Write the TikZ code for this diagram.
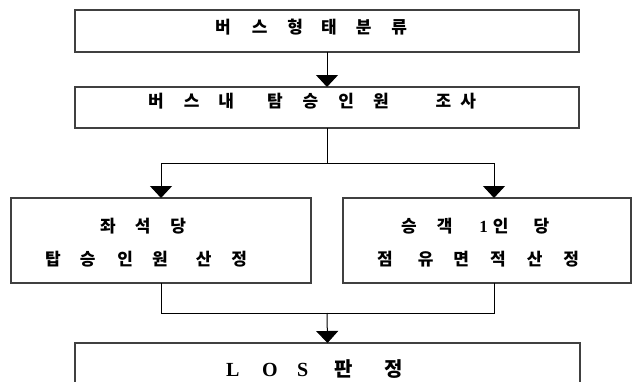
\documentclass[tikz,border=0pt]{standalone}
\usepackage{fontspec}
\newfontfamily\kr{Noto Sans CJK KR}
\newfontfamily\tms{Liberation Serif}
\usetikzlibrary{arrows.meta}
\definecolor{boxgray}{HTML}{404040}
\newcommand{\gp}[1]{\hspace*{#1pt}}
\begin{document}
\begin{tikzpicture}[x=1pt,y=-1pt,
  box/.style={draw=boxgray, line width=1.4pt, inner sep=0pt, outer sep=0pt},
  link/.style={draw=black, line width=1pt},
  arr/.style={link, -{Triangle[width=22pt,length=12pt]}},
  krtxt/.style={anchor=west, inner sep=0pt, font=\kr\bfseries\fontsize{17pt}{17pt}\selectfont},
  bigtxt/.style={anchor=west, inner sep=0pt, font=\kr\bfseries\fontsize{20pt}{20pt}\selectfont}]
\useasboundingbox (0,0) rectangle (632,381);
\clip (0,0) rectangle (632,381);
\fill[white] (0,0) rectangle (632,381);

\node[box, minimum width=504pt, minimum height=42pt] (b1) at (327,31) {};
\node[box, minimum width=504pt, minimum height=41pt] (b2) at (327,107.5) {};
\node[box, minimum width=300pt, minimum height=85pt] (b3) at (161,240.5) {};
\node[box, minimum width=288pt, minimum height=85pt] (b4) at (487,240.5) {};
\node[box, minimum width=505pt, minimum height=52pt] (b5) at (327.5,369) {};

\node[krtxt] (t1) at (215,27) {버\gp{21}스\gp{20}형\gp{18}태\gp{19}분\gp{20}류};
\node[krtxt] (t2) at (148,101) {버\gp{20}스\gp{19}내\gp{33}탐\gp{20}승\gp{20}인\gp{19}원\gp{47}조\gp{9}사};
\node[krtxt] (t3a) at (100,226) {좌\gp{19}석\gp{20}당};
\node[krtxt] (t3b) at (45,259) {탑\gp{19}승\gp{22}인\gp{19}원\gp{28}산\gp{20}정};
\node[krtxt] (t4a) at (401,226) {승\gp{20}객\gp{27}{\tms 1}\gp{5}인\gp{25}당};
\node[krtxt] (t4b) at (377,259) {점\gp{25}유\gp{20}면\gp{21}적\gp{21}산\gp{21}정};
\node[bigtxt] (t5) at (226,369) {{\tms L}\gp{22.7}{\tms O}\gp{19.4}{\tms S}\gp{26}판\gp{32}정};

\coordinate (split) at (327,163);
\coordinate (merge) at (327,313);
\draw[arr] (b1.south) -- (b2.north);
\draw[link] (b2.south) -- (split);
\draw[arr] (split) -| (b3.north);
\draw[arr] (split) -| ([xshift=7pt]b4.north);
\draw[link] (b3.south) |- (merge);
\draw[link] ([xshift=7pt]b4.south) |- (merge);
\draw[arr] (merge) -- (b5.north);
\end{tikzpicture}
\end{document}
